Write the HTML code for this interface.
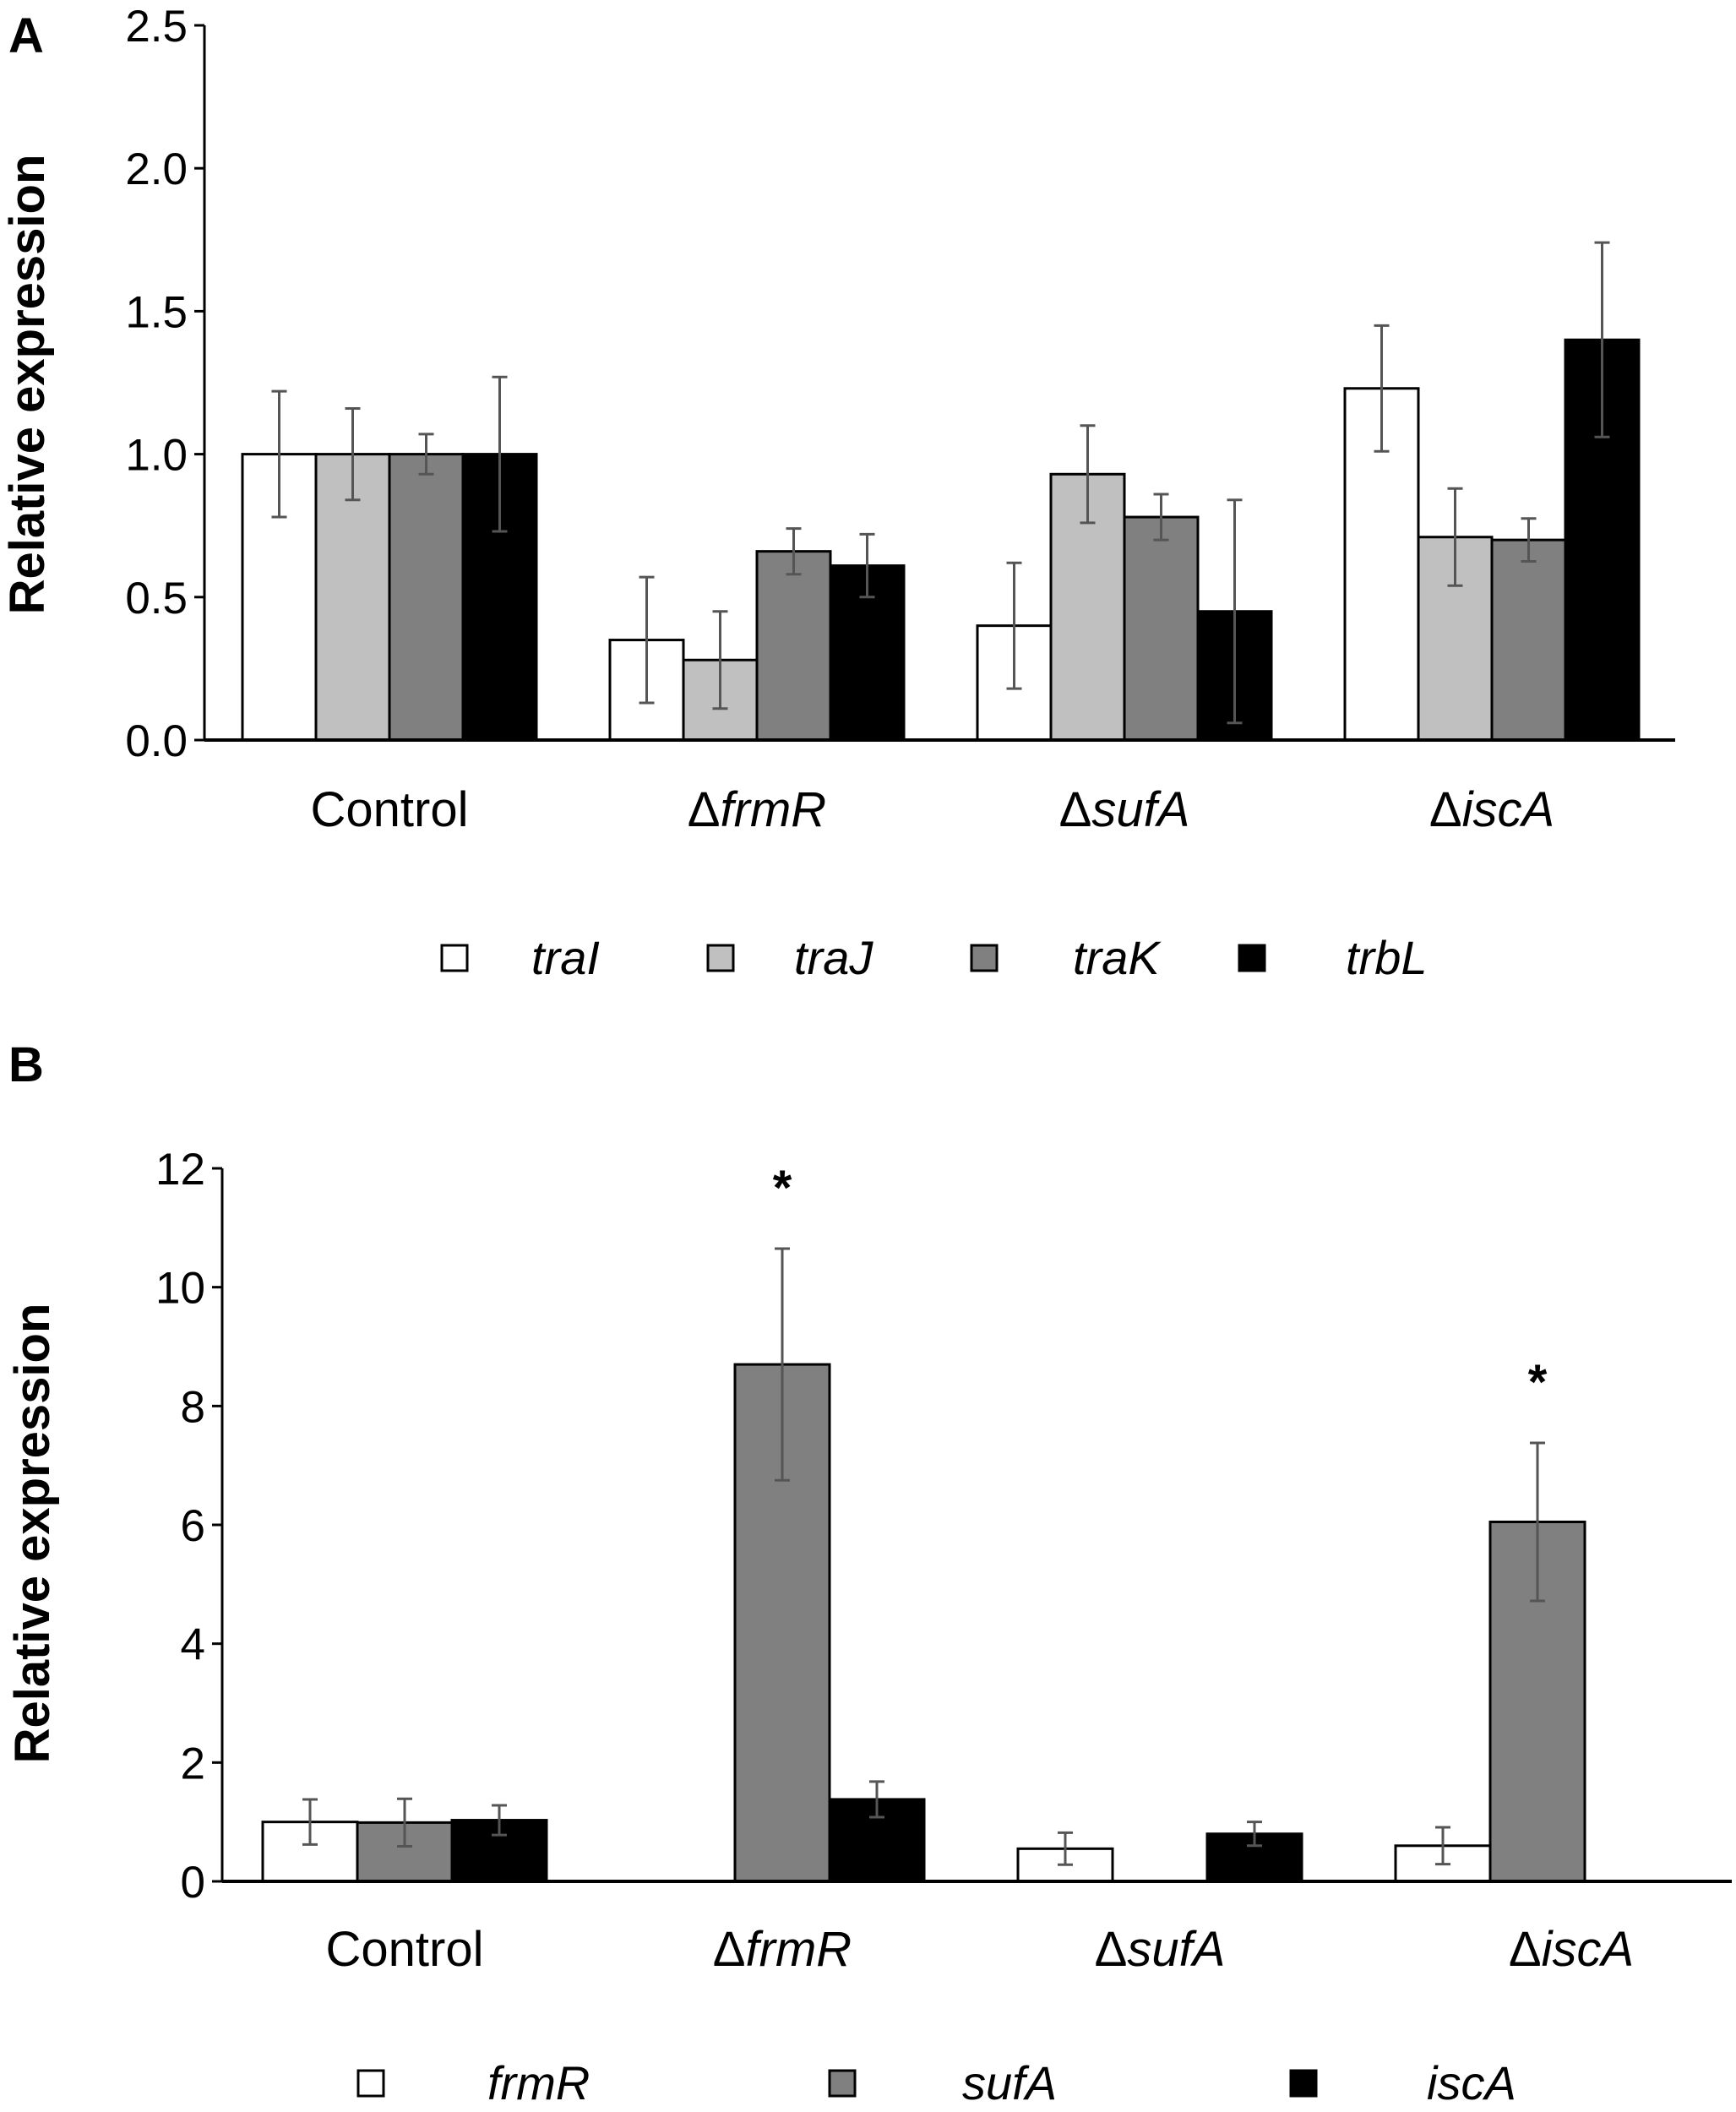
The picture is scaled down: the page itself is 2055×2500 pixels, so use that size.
<!DOCTYPE html>
<html><head><meta charset="utf-8"><style>
html,body{margin:0;padding:0;background:#fff}
svg{display:block;font-family:"Liberation Sans",Arial,sans-serif}
</style></head><body>
<svg id="fig" width="2055" height="2500" viewBox="0 0 2055 2500" xmlns="http://www.w3.org/2000/svg">
<text x="10" y="62" font-size="58" font-weight="bold">A</text>
<text x="10" y="1280" font-size="58" font-weight="bold">B</text>
<g id="chartA"></g>
<g id="chartB"></g>
</svg>
<script>
const catsA = ["Control","\u0394frmR","\u0394sufA","\u0394iscA"];
const seriesNamesA = ["traI","traJ","traK","trbL"];
const valsA_traI = [1.00,0.35,0.40,1.23];
const valsA_traJ = [1.00,0.28,0.93,0.71];
const valsA_traK = [1.00,0.66,0.78,0.70];
const valsA_trbL = [1.00,0.61,0.45,1.40];
const errA_traI = [0.22,0.22,0.22,0.22];
const errA_traJ = [0.16,0.17,0.17,0.17];
const errA_traK = [0.07,0.08,0.08,0.075];
const errA_trbL = [0.27,0.11,0.39,0.34];
const ticksA = ["0.0","0.5","1.0","1.5","2.0","2.5"];

const catsB = ["Control","\u0394frmR","\u0394sufA","\u0394iscA"];
const seriesNamesB = ["frmR","sufA","iscA"];
const valsB_frmR = [1.00,0.00,0.55,0.60];
const valsB_sufA = [0.99,8.70,0.00,6.05];
const valsB_iscA = [1.03,1.38,0.80,0.00];
const errB_frmR = [0.38,0,0.27,0.31];
const errB_sufA = [0.40,1.95,0,1.33];
const errB_iscA = [0.25,0.30,0.20,0];
const ticksB = ["0","2","4","6","8","10","12"];
const starsB = [[1,1],[3,1]];

const NS="http://www.w3.org/2000/svg";
function mk(parent,tag,attrs,name){const e=document.createElementNS(NS,tag);for(const k in attrs)e.setAttribute(k,attrs[k]);


parent.appendChild(e);return e;}
function catText(parent,x,y,label,fs,name){
  const t=mk(parent,'text',{x:x,y:y,'font-size':fs,'text-anchor':'middle'},name);
  if(label[0]==='\u0394'){const a=document.createElementNS(NS,'tspan');a.textContent='\u0394';t.appendChild(a);
    const b=document.createElementNS(NS,'tspan');b.setAttribute('font-style','italic');b.textContent=label.slice(1);t.appendChild(b);}
  else t.textContent=label;
}
function drawChart(g,cfg){
  const y=v=>cfg.y0-(v/cfg.ymax)*(cfg.y0-cfg.ytop);
  cfg.series.forEach((s,si)=>{
    s.vals.forEach((v,ci)=>{
      const x=cfg.gx0+ci*cfg.pitch+si*cfg.bw;
      mk(g,'rect',{x:x,y:y(v),width:cfg.bw,height:cfg.y0-y(v),fill:cfg.colors[si],stroke:'#000','stroke-width':3},'bar-'+s.name+'-'+ci);
      if(s.err[ci]>0){
        const cx=x+cfg.bw/2;
        mk(g,'line',{x1:cx,x2:cx,y1:y(v-s.err[ci]),y2:y(v+s.err[ci]),stroke:'#555','stroke-width':3},'error-bar');
        mk(g,'line',{x1:cx-9,x2:cx+9,y1:y(v-s.err[ci]),y2:y(v-s.err[ci]),stroke:'#555','stroke-width':3},'error-cap');
        mk(g,'line',{x1:cx-9,x2:cx+9,y1:y(v+s.err[ci]),y2:y(v+s.err[ci]),stroke:'#555','stroke-width':3},'error-cap');
      }
    });
  });
  mk(g,'line',{x1:cfg.ax,x2:cfg.ax,y1:cfg.ytop,y2:cfg.y0,stroke:'#000','stroke-width':3},'y-axis');
  mk(g,'line',{x1:cfg.ax,x2:cfg.axEnd,y1:cfg.y0,y2:cfg.y0,stroke:'#000','stroke-width':4},'x-axis');
  cfg.ticks.forEach(t=>{
    const yy=y(parseFloat(t));
    mk(g,'line',{x1:cfg.ax-12,x2:cfg.ax,y1:yy,y2:yy,stroke:'#000','stroke-width':3},'y-tick');
    const tx=mk(g,'text',{x:cfg.ax-20,y:yy+19,'font-size':53,'text-anchor':'end'},'y-tick-label');tx.textContent=t;
  });
  const yt=mk(g,'text',{x:0,y:0,'font-size':58,'font-weight':'bold','text-anchor':'middle',transform:`translate(${cfg.ytx},${cfg.yty}) rotate(-90)`},'y-axis-title');
  yt.textContent='Relative expression';
  cfg.cats.forEach((c,ci)=>{
    const cx=cfg.gx0+ci*cfg.pitch+cfg.series.length*cfg.bw/2+(cfg.catOff?cfg.catOff[ci]:0);
    catText(g,cx,cfg.caty,c,58,'x-category-label');
  });
  cfg.series.forEach((s,si)=>{
    mk(g,'rect',{x:cfg.legSq[si],y:cfg.legy-15,width:30,height:30,fill:cfg.colors[si],stroke:'#000','stroke-width':3},'legend-swatch-'+s.name);
    const t=mk(g,'text',{x:cfg.legTx[si],y:cfg.legy+19,'font-size':56,'font-style':'italic'},'legend-label-'+s.name);t.textContent=s.name;
  });
  (cfg.stars||[]).forEach(st=>{
    const ci=st[0],si=st[1],s=cfg.series[si];
    const cx=cfg.gx0+ci*cfg.pitch+si*cfg.bw+cfg.bw/2;
    const t=mk(g,'text',{x:cx,y:y(s.vals[ci]+s.err[ci])-52,'font-size':58,'font-weight':'bold','text-anchor':'middle'},'significance-star');t.textContent='*';
  });
}
drawChart(document.getElementById('chartA'),{
  cats:catsA,ticks:ticksA,ymax:2.5,y0:876,ytop:30,ax:242,axEnd:1983,gx0:287,pitch:435,bw:87,
  colors:['#ffffff','#c0c0c0','#808080','#000000'],
  series:[{name:'traI',vals:valsA_traI,err:errA_traI},{name:'traJ',vals:valsA_traJ,err:errA_traJ},{name:'traK',vals:valsA_traK,err:errA_traK},{name:'trbL',vals:valsA_trbL,err:errA_trbL}],
  ytx:52,yty:455,caty:978,legSq:[523,838,1150,1467],legTx:[629,940,1270,1593],legy:1134
});
drawChart(document.getElementById('chartB'),{
  cats:catsB,ticks:ticksB,ymax:12,y0:2227,ytop:1383,ax:263,axEnd:2050,gx0:311,pitch:447,bw:112,
  colors:['#ffffff','#808080','#000000'],
  series:[{name:'frmR',vals:valsB_frmR,err:errB_frmR},{name:'sufA',vals:valsB_sufA,err:errB_sufA},{name:'iscA',vals:valsB_iscA,err:errB_iscA}],
  ytx:58,yty:1815,caty:2327,legSq:[424,982,1528],legTx:[577,1139,1689],legy:2466,stars:starsB,catOff:[0,0,0,40]
});
</script>
</body></html>
